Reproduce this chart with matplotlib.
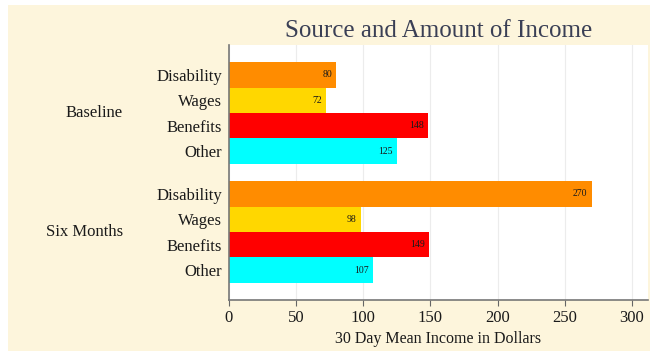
import numpy as np
import matplotlib.pyplot as plt
from matplotlib.patches import Rectangle

groups = ['Baseline', 'Six Months']
sources = ['Disability', 'Wages', 'Benefits', 'Other']
baseline = [80, 72, 148, 125]
six_months = [270, 98, 149, 107]
colors = ['#ff8c00', '#ffd700', '#ff0000', '#00ffff']
xticks = [0, 50, 100, 150, 200, 250, 300]

plt.rcParams['font.family'] = ['Liberation Serif', 'DejaVu Serif']

fig = plt.figure(figsize=(6.56, 3.56), dpi=100, facecolor='white')
W, H = 656, 356
fig.patches.append(Rectangle((8 / W, 5 / H), (650 - 8) / W, (351 - 5) / H,
                             transform=fig.transFigure, facecolor='#fdf5dc',
                             edgecolor='none', zorder=-10))
ax = fig.add_axes([229 / W, 1 - 300 / H, (648 - 229) / W, (300 - 45) / H])
ax.set_facecolor('white')

txt = '#1a1a1a'
gap = 0.68
starts = [0, 4 + gap]
for g, (vals, start) in enumerate(zip([baseline, six_months], starts)):
    pos = start + np.arange(len(sources)) + 0.5
    ax.barh(pos, vals, height=1.0, color=colors, zorder=2)
    for p, v in zip(pos, vals):
        ax.text(v - 3, p, str(v), ha='right', va='center', fontsize=7,
                color=txt, zorder=3)
    ax.text(-0.253, start + 2, groups[g], transform=ax.get_yaxis_transform(),
            ha='right', va='center', fontsize=12, color=txt)

ypos = np.concatenate([s + np.arange(len(sources)) + 0.5 for s in starts])
ax.set_yticks(ypos)
ax.set_yticklabels(sources * 2, fontsize=12, color=txt)
ax.tick_params(axis='y', length=0, pad=5)
ax.set_ylim(8 + 2 * gap, -gap)

ax.set_xlim(0, 312)
ax.set_xticks(xticks)
ax.tick_params(axis='x', labelsize=12, labelcolor=txt, color='#666666',
               length=4, direction='out', pad=3)
ax.xaxis.grid(True, color='#ececec', linewidth=0.8, zorder=0)
ax.set_axisbelow(True)
for side in ['top', 'right']:
    ax.spines[side].set_visible(False)
for side in ['left', 'bottom']:
    ax.spines[side].set_color('#777777')
    ax.spines[side].set_linewidth(1.2)

ax.set_xlabel('30 Day Mean Income in Dollars', fontsize=11.5, color=txt,
              labelpad=4)
ax.set_title('Source and Amount of Income', fontsize=18, color='#3a3f55', pad=6)

fig.savefig('out.png', dpi=100, facecolor=fig.get_facecolor())
